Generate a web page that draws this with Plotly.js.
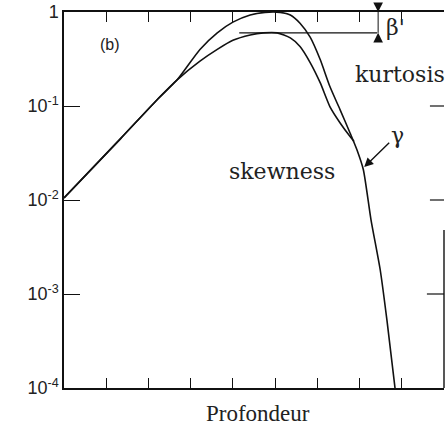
<!DOCTYPE html>
<html>
<head>
<meta charset="utf-8">
<script src="https://cdn.plot.ly/plotly-3.0.1.min.js"></script>
<style>html,body{margin:0;padding:0;background:#fff}</style>
</head>
<body>
<div id="chart" style="width:448px;height:427px"></div>
<script>
// both curves share the rising branch, then split near depth 2.7
const depthKurt = [0, 1.34, 2.2, 2.68, 3.22, 3.63, 4.0, 4.41, 4.76, 5.12, 5.36, 5.59, 5.83, 6.07, 6.30, 6.54, 6.78, 6.94, 7.09, 7.27, 7.49, 7.65, 7.84];
const kurtosis = [0.0105, 0.045, 0.116, 0.19, 0.40, 0.60, 0.78, 0.93, 0.99, 0.99, 0.93, 0.76, 0.54, 0.31, 0.16, 0.091, 0.051, 0.034, 0.021, 0.0062, 0.0018, 0.00052, 0.0001];
const depthSkew = [0, 1.34, 2.2, 2.68, 3.22, 3.63, 4.0, 4.41, 4.72, 5.05, 5.36, 5.59, 5.83, 6.07, 6.30, 6.54, 6.78, 6.87];
const skewness = [0.0105, 0.045, 0.116, 0.19, 0.30, 0.40, 0.50, 0.57, 0.60, 0.60, 0.53, 0.43, 0.29, 0.176, 0.098, 0.066, 0.047, 0.042];

// beta' marker: level of the skewness peak
const betaDepth = [4.15, 7.42];
const betaLevel = 0.6;
const betaX = 7.44;

const xTicks = [1, 2, 3, 4, 5, 6, 7, 8];
const yTickVals = [1e-4, 1e-3, 1e-2, 1e-1, 1];
const yTickText = ['10<sup>-4</sup>', '10<sup>-3</sup>', '10<sup>-2</sup>', '10<sup>-1</sup>', '1'];

const ink = '#111';
const sans = 'Liberation Sans, Arial, sans-serif';
const serif = 'DejaVu Serif, serif';
const lg = Math.log10;

const traces = [
  { x: depthKurt, y: kurtosis, mode: 'lines', line: { color: ink, width: 1.6, shape: 'spline', smoothing: 0.6 }, hoverinfo: 'skip' },
  { x: depthSkew, y: skewness, mode: 'lines', line: { color: ink, width: 1.6, shape: 'spline', smoothing: 0.6 }, hoverinfo: 'skip' },
  { x: betaDepth, y: [betaLevel, betaLevel], mode: 'lines', line: { color: ink, width: 1.3 }, hoverinfo: 'skip' },
  { x: [betaX, betaX], y: [betaLevel, 1], mode: 'lines', line: { color: ink, width: 1 }, hoverinfo: 'skip' }
];

const layout = {
  width: 448,
  height: 427,
  margin: { l: 64, r: 4, t: 12, b: 39 },
  paper_bgcolor: '#fff',
  plot_bgcolor: '#fff',
  showlegend: false,
  font: { family: sans, color: '#222', size: 17 },
  xaxis: {
    range: [0, 9],
    tickvals: xTicks,
    showticklabels: false,
    ticks: 'inside',
    ticklen: 10,
    tickcolor: ink,
    showline: true,
    linecolor: ink,
    linewidth: 1.6,
    mirror: 'ticks',
    showgrid: false,
    zeroline: false
  },
  yaxis: {
    type: 'log',
    range: [-4, 0],
    tickvals: yTickVals,
    ticktext: yTickText,
    tickfont: { family: sans, size: 18, color: '#222' },
    ticks: 'inside',
    ticklen: 16,
    tickcolor: ink,
    showline: true,
    linecolor: ink,
    linewidth: 1.6,
    showgrid: false,
    zeroline: false
  },
  shapes: [
    { type: 'line', xref: 'paper', yref: 'paper', x0: 1, x1: 1, y0: 0, y1: 0.42, line: { color: ink, width: 1.4 } },
    { type: 'line', xref: 'paper', yref: 'paper', x0: 0.963, x1: 1, y0: 0.75, y1: 0.75, line: { color: ink, width: 1.2 } },
    { type: 'line', xref: 'paper', yref: 'paper', x0: 0.963, x1: 1, y0: 0.5, y1: 0.5, line: { color: ink, width: 1.2 } },
    { type: 'line', xref: 'paper', yref: 'paper', x0: 0.955, x1: 1, y0: 0.25, y1: 0.25, line: { color: ink, width: 1.2 } }
  ],
  annotations: [
    { x: 1.09, y: -0.35, xref: 'x', yref: 'y', text: '(b)', showarrow: false, font: { family: sans, size: 16, color: '#222' } },
    { x: 7.96, y: -0.67, xref: 'x', yref: 'y', text: 'kurtosis', showarrow: false, font: { family: serif, size: 22, color: '#222' } },
    { x: 5.17, y: -1.70, xref: 'x', yref: 'y', text: 'skewness', showarrow: false, font: { family: serif, size: 22, color: '#222' } },
    { x: 7.85, y: -0.17, xref: 'x', yref: 'y', text: "β'", showarrow: false, font: { family: serif, size: 22, color: '#222' } },
    { x: 7.11, y: -1.65, xref: 'x', yref: 'y', text: 'γ', font: { family: serif, size: 22, color: '#222' },
      showarrow: true, arrowhead: 2, arrowsize: 1.3, arrowwidth: 1.4, arrowcolor: ink, ax: 33, ay: -32 },
    { x: betaX, y: lg(1), xref: 'x', yref: 'y', text: '', showarrow: true, arrowhead: 2, arrowsize: 1.6,
      arrowwidth: 1.2, arrowcolor: ink, ax: 0, ay: -9, standoff: 0 },
    { x: betaX, y: lg(betaLevel), xref: 'x', yref: 'y', text: '', showarrow: true, arrowhead: 2, arrowsize: 1.6,
      arrowwidth: 1.2, arrowcolor: ink, ax: 0, ay: 10, standoff: 0 },
    { x: 0.51, y: -0.069, xref: 'paper', yref: 'paper', text: 'Profondeur', showarrow: false, yanchor: 'middle',
      font: { family: 'Liberation Serif, serif', size: 23, color: '#222' } }
  ]
};

Plotly.newPlot('chart', traces, layout, { displayModeBar: false, staticPlot: true });
</script>
</body>
</html>
